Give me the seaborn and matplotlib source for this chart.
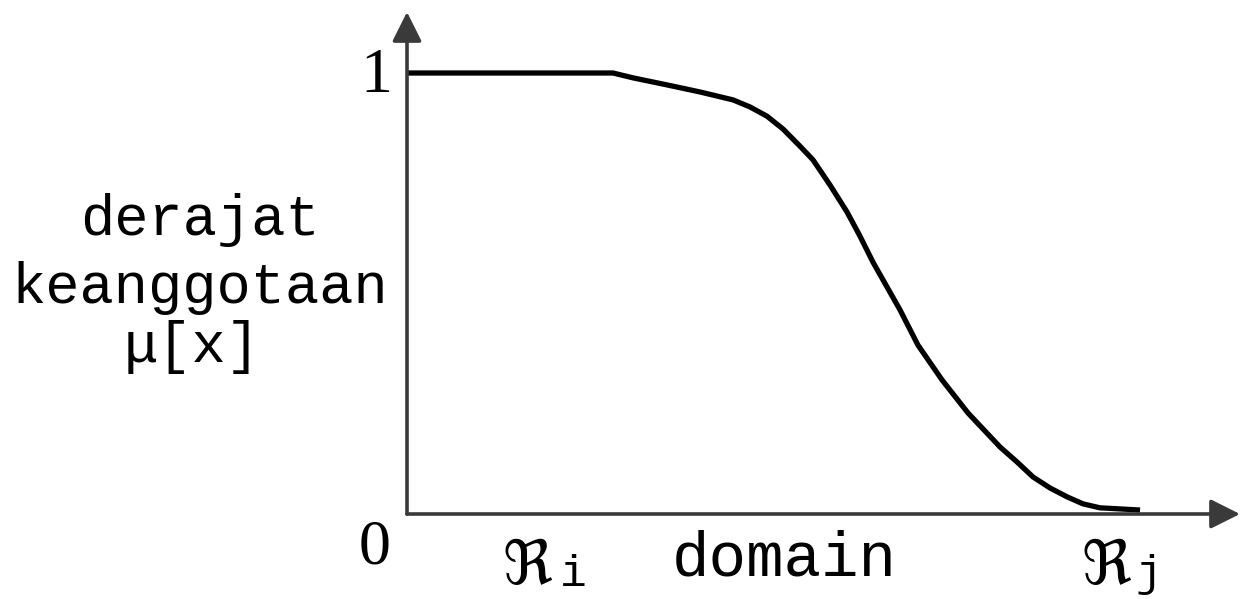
import matplotlib
matplotlib.use("Agg")
import matplotlib.pyplot as plt
import seaborn as sns
import pandas as pd

# Membership function of the fuzzy set over the domain (0..100)
domain_x = [0, 24.73, 27.13, 31.21, 35.17, 39.14, 41.18, 43.22, 45.14, 47.18,
            48.74, 50.78, 52.82, 54.38, 55.94, 57.98, 59.18, 61.34, 64.23, 67.35,
            71.19, 73.23, 75.15, 77.19, 79.23, 81.15, 83.19, 88.0]
membership = [1.0, 1.0, 0.989, 0.973, 0.957, 0.939, 0.923, 0.902, 0.873, 0.834,
              0.803, 0.746, 0.685, 0.630, 0.571, 0.503, 0.463, 0.383, 0.304, 0.229,
              0.152, 0.118, 0.084, 0.059, 0.039, 0.023, 0.014, 0.009]

y_label_lines = ["derajat", "keanggotaan", "\u03bc[x]"]
x_label = "domain"
y_ticks = ["0", "1"]

df = pd.DataFrame({"x": domain_x, "mu": membership})

sns.set_style("white")
plt.rcParams["font.family"] = ["Liberation Mono", "DejaVu Sans"]

W, H = 1240, 599
fig = plt.figure(figsize=(W / 100, H / 100), dpi=100)
fig.patch.set_facecolor("white")


def at(px, py):
    return px / W, 1 - py / H


# axes: origin at (407, 514) px, y = 1 at 73 px, arrow tips at x=1240 / y=12
ax = fig.add_axes([407 / W, (H - 514) / H, (W - 407) / W, (514 - 12) / H])
ax.set_xlim(0, 100)
ax.set_ylim(0, (514 - 12) / 441)
ax.axis("off")

axis_color = "#3a3a3a"
arrow_kw = dict(arrowstyle="-|>,head_length=0.9,head_width=0.45",
                color=axis_color, lw=2.6, shrinkA=0, shrinkB=0,
                mutation_scale=20)
ax.annotate("", xy=(0, ax.get_ylim()[1]), xytext=(0, 0),
            arrowprops=arrow_kw, annotation_clip=False)
ax.annotate("", xy=(100, 0), xytext=(0, 0),
            arrowprops=arrow_kw, annotation_clip=False)

sns.lineplot(data=df, x="x", y="mu", ax=ax, color="black", lw=3.8,
             solid_joinstyle="round", solid_capstyle="butt", clip_on=False)

# tick values 0 and 1
fig.text(*at(376, 92), y_ticks[1], family="Liberation Serif", fontsize=46,
         ha="center", va="baseline", color="black")
fig.text(*at(375, 563), y_ticks[0], family="Liberation Serif", fontsize=46,
         ha="center", va="baseline", color="black")

# y-axis label, three centred lines
for txt, cx, base in zip(y_label_lines, [200, 200, 192], [235, 303, 362]):
    fig.text(*at(cx, base), txt, fontsize=41, ha="center", va="baseline",
             color="black")

# x-axis label and the domain limits
fig.text(*at(784, 575), x_label, fontsize=45, ha="center", va="baseline",
         color="black")
for cx, sub, scx in [(527, "i", 573), (1106, "j", 1149)]:
    fig.text(*at(cx, 584), "\u211c", family=["DejaVu Serif", "DejaVu Sans"],
             fontsize=44, ha="center", va="baseline", color="black")
    fig.text(*at(scx, 586), sub, fontsize=32, ha="center", va="baseline",
             color="black")

fig.savefig("out.png", dpi=100, facecolor="white")
